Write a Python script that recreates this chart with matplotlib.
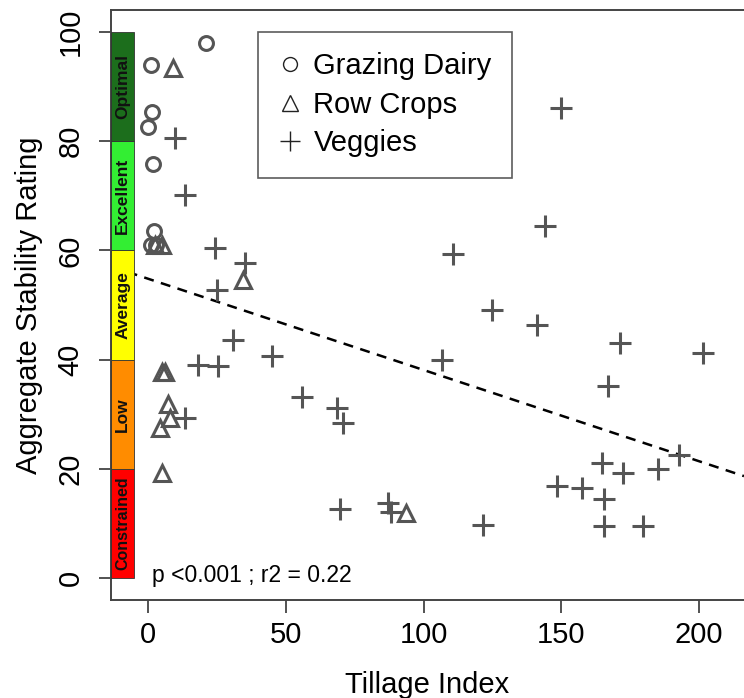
import matplotlib
matplotlib.use('Agg')
import matplotlib.pyplot as plt
from matplotlib.lines import Line2D
from matplotlib.patches import Rectangle

plt.rcParams['font.family'] = ['Liberation Sans', 'DejaVu Sans']

# Grazing Dairy (circles)
dairy_x = [21, 1, 1.5, 0, 1.6, 2, 1, 3]
dairy_y = [98, 94, 85.4, 82.6, 75.9, 63.5, 61, 61]

# Row Crops (triangles)
row_x = [9, 2.5, 5, 34.5, 4.9, 6, 7.3, 7.9, 4.2, 4.9, 93.6]
row_y = [93.3, 61, 61, 54.6, 37.8, 37.8, 31.8, 29.3, 27.5, 19.3, 12]

# Veggies (plus)
veg_x = [9.7, 13.3, 24.2, 35.1, 25.1, 30.9, 44.8, 18.2, 25.4, 56, 68.4,
         70.8, 13.3, 69.6, 87.2, 88, 149.7, 144, 110.7, 124.7, 141.3, 171.3,
         201.5, 106.5, 167, 192.8, 164.9, 172.5, 185.2, 148.5, 157.4, 165.6,
         121.6, 165.6, 179.5]
veg_y = [80.5, 70.1, 60.4, 57.7, 52.8, 43.6, 40.6, 39.1, 38.8, 33.2, 31.2,
         28.4, 29.3, 12.6, 13.8, 12.2, 86, 64.5, 59.4, 49.1, 46.3, 43,
         41.3, 40, 35.1, 22.6, 21.1, 19.3, 20, 16.9, 16.5, 14.5,
         9.8, 9.6, 9.6]

# fitted line
intercept = 54.8
slope = -0.167

# rating classes
class_names = ['Constrained', 'Low', 'Average', 'Excellent', 'Optimal']
class_lo = [0, 20, 40, 60, 80]
class_hi = [20, 40, 60, 80, 100]
class_cols = ['#ff0000', '#ff8c00', '#ffff00', '#33ee33', '#1c6e1c']

XLIM = (-13.5, 216.3)
YLIM = (-4, 104)
BAR_RIGHT = -5
PT_COL = '#555555'


def main():
    fig = plt.figure(figsize=(7.44, 6.98), dpi=100)
    ax = fig.add_axes([111 / 744, 1 - 600 / 698, 1 - 111 / 744, 590 / 698])
    ax.set_xlim(*XLIM)
    ax.set_ylim(*YLIM)

    xs = [XLIM[0], XLIM[1]]
    ax.plot(xs, [intercept + slope * x for x in xs], ls=(0, (4, 3)),
            color='black', lw=1.8, zorder=2)

    for lo, hi, col, name in zip(class_lo, class_hi, class_cols, class_names):
        ax.add_patch(Rectangle((XLIM[0], lo), BAR_RIGHT - XLIM[0], hi - lo,
                               facecolor=col, edgecolor='#333333', lw=0.6,
                               zorder=3))
        fs = 11.5 if name == 'Constrained' else 12.5
        ax.text((XLIM[0] + BAR_RIGHT) / 2, (lo + hi) / 2, name, rotation=90,
                ha='center', va='center', fontsize=fs, fontweight='bold',
                color='#111111', zorder=4)

    ax.plot(dairy_x, dairy_y, ls='none', marker='o', ms=10, mfc='none',
            mec=PT_COL, mew=2.2, zorder=5)
    ax.plot(row_x, row_y, ls='none', marker='^', ms=12, mfc='none',
            mec=PT_COL, mew=2.2, zorder=5)
    ax.plot(veg_x, veg_y, ls='none', marker='+', ms=16, mec=PT_COL,
            mew=2.2, zorder=5)

    ax.text(1.3, 0.5, 'p <0.001 ; r2 = 0.22', ha='left', va='center',
            fontsize=16.5, zorder=6)

    handles = [
        Line2D([], [], ls='none', marker='o', ms=10, mfc='none',
               mec='#222222', mew=1),
        Line2D([], [], ls='none', marker='^', ms=12, mfc='none',
               mec='#222222', mew=1),
        Line2D([], [], ls='none', marker='+', ms=15, mec='#222222', mew=1),
    ]
    leg = ax.legend(handles, ['Grazing Dairy', 'Row Crops', 'Veggies'],
                    loc='upper left', bbox_to_anchor=(258 / 744, 1 - 32 / 698),
                    bbox_transform=fig.transFigure, borderaxespad=0,
                    fontsize=21, frameon=True, fancybox=False,
                    borderpad=0.7, labelspacing=0.36, handlelength=0.8,
                    handletextpad=0.4)
    leg.get_frame().set_edgecolor('#333333')
    leg.get_frame().set_linewidth(1.2)
    leg.set_zorder(7)

    ax.spines['right'].set_visible(False)
    for s in ['left', 'bottom', 'top']:
        ax.spines[s].set_color('#444444')
        ax.spines[s].set_linewidth(1.4)

    ax.set_xticks([0, 50, 100, 150, 200])
    ax.set_yticks([0, 20, 40, 60, 80, 100])
    ax.tick_params(axis='both', length=9, width=1.3, color='#444444',
                   labelsize=21)
    ax.tick_params(axis='x', pad=6)
    ax.tick_params(axis='y', pad=10)
    for lab in ax.get_yticklabels():
        lab.set_rotation(90)
        lab.set_va('center')

    ax.set_xlabel('Tillage Index', fontsize=21, labelpad=16)
    ax.set_ylabel('Aggregate Stability Rating', fontsize=21, labelpad=10)

    fig.savefig('out.png', dpi=100)


if __name__ == '__main__':
    main()
